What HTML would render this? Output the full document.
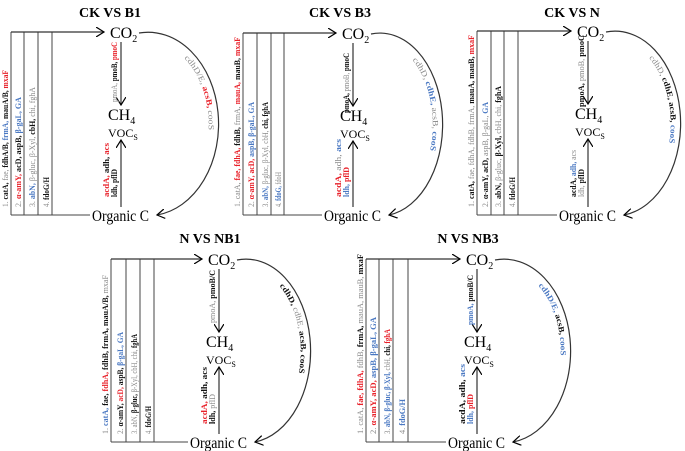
<!DOCTYPE html>
<html><head><meta charset="utf-8"><style>
html,body{margin:0;padding:0;background:#fff;}
svg{display:block;font-family:"Liberation Serif",serif;}
</style></head><body>
<svg id="fig" width="685" height="451" viewBox="0 0 685 451" xmlns="http://www.w3.org/2000/svg">
<defs>
<marker id="ah" markerWidth="10" markerHeight="10" refX="8" refY="5" orient="auto" markerUnits="userSpaceOnUse">
<path d="M0,0 L8,5 L0,10" fill="none" stroke="#000" stroke-width="1.2"/>
</marker>
</defs>
</svg>
<script>
const C={k:'#111',r:'#e8212a',b:'#4a78c2',g:'#8a8a8a'};
const titles=['CK VS B1','CK VS B3','CK VS N','N VS NB1','N VS NB3'];
const col1=[
 [['catA','k'],['fae','g'],['fdhA/B','k'],['frmA','b'],['mauA/B','k'],['mxaF','r']],
 [['catA','g'],['fae','r'],['fdhA','r'],['fdhB','k'],['frmA','g'],['mauA','r'],['mauB','k'],['mxaF','r']],
 [['catA','k'],['fae','g'],['fdhA','g'],['fdhB','g'],['frmA','g'],['mauA','k'],['mauB','k'],['mxaF','r']],
 [['catA','b'],['fae','k'],['fdhA','r'],['fdhB','k'],['frmA','k'],['mauA/B','k'],['mxaF','g']],
 [['catA','g'],['fae','r'],['fdhA','r'],['fdhB','g'],['frmA','k'],['mauA','g'],['mauB','g'],['mxaF','k']]];
const col2=[
 [['α-amY','r'],['acD','k'],['aspB','k'],['β-gaL','b'],['GA','b']],
 [['α-amY','r'],['acD','r'],['aspB','b'],['β-gaL','b'],['GA','b']],
 [['α-amY','k'],['acD','k'],['aspB','g'],['β-gaL','g'],['GA','b']],
 [['α-amY','k'],['acD','r'],['aspB','k'],['β-gaL','b'],['GA','b']],
 [['α-amY','r'],['acD','r'],['aspB','b'],['β-gaL','b'],['GA','b']]];
const col3=[
 [['abN','b'],['β-gluc','g'],['β-Xyl','g'],['cbH','k'],['chi','g'],['fghA','g']],
 [['abN','b'],['β-gluc','g'],['β-Xyl','g'],['cbH','g'],['chi','k'],['fghA','k']],
 [['abN','k'],['β-gluc','g'],['β-Xyl','k'],['cbH','g'],['chi','g'],['fghA','k']],
 [['abN','g'],['β-gluc','k'],['β-Xyl','g'],['cbH','g'],['chi','g'],['fghA','k']],
 [['abN','b'],['β-gluc','b'],['β-Xyl','b'],['cbH','g'],['chi','k'],['fghA','r']]];
const col4=[
 [['fdoG/H','k']],[['fdoG','b'],['fdoH','g']],[['fdoG/H','k']],[['fdoG/H','k']],[['fdoG/H','b']]];
const pmo=[
 [['pmoA','g'],['pmoB','k'],['pmoC','r']],
 [['pmoA','k'],['pmoB','g'],['pmoC','k']],
 [['pmoA','k'],['pmoB','g'],['pmoC','k']],
 [['pmoA','g'],['pmoB/C','k']],
 [['pmoA','b'],['pmoB/C','k']]];
const arcG=[
 [['cdhD/E','g'],['acsB','r'],['cooS','g']],
 [['cdhD','g'],['cdhE','b'],['acsB','g'],['cooS','b']],
 [['cdhD','g'],['cdhE','k'],['acsB','k'],['cooS','b']],
 [['cdhD','k'],['cdhE','g'],['acsB','k'],['cooS','k']],
 [['cdhD/E','b'],['acsB','k'],['cooS','b']]];
const low1=[
 [['acdA','r'],['adh','k'],['acs','r']],
 [['acdA','r'],['adh','g'],['acs','b']],
 [['acdA','k'],['adh','b'],['acs','g']],
 [['acdA','r'],['adh','k'],['acs','k']],
 [['acdA','k'],['adh','k'],['acs','b']]];
const low2=[
 [['ldh','k'],['pflD','k']],
 [['ldh','b'],['pflD','r']],
 [['ldh','g'],['pflD','k']],
 [['ldh','k'],['pflD','g']],
 [['ldh','b'],['pflD','r']]];
// layout (not data)
const L=[
 {lines:[11,24,38,52],ax:121,top:32,bot:215,arcR:218,tx:110,ty:17,cl:[137,110,120,30],pl:60,py:70,ll:[54,28],al:78},
 {lines:[243,257,271,284],ax:353,top:33,bot:215,arcR:442,tx:340,ty:17,cl:[170,105,105,35],pl:60,py:80,ll:[58,30],al:95},
 {lines:[477,491,504,518],ax:588,top:31,bot:215,arcR:680,tx:572,ty:17,cl:[172,105,121,30],pl:72,py:76,ll:[47,28],al:90},
 {lines:[111,126,140,154],ax:219,top:259,bot:442,arcR:310,tx:210,ty:243,cl:[159,102,100,28],pl:53,py:64,ll:[57,30],al:92},
 {lines:[366,379,393,408],ax:477,top:259,bot:442,arcR:570,tx:468,ty:243,cl:[180,117,105,35],pl:50,py:66,ll:[60,30],al:75}];
const svg=document.getElementById('fig');
const NS='http://www.w3.org/2000/svg';
function mk(tag,attrs,parent){const e=document.createElementNS(NS,tag);for(const k in attrs)e.setAttribute(k,attrs[k]);(parent||svg).appendChild(e);return e;}
function fill(t,prefix,segs){
 if(prefix){const s=mk('tspan',{fill:C.g},t);s.textContent=prefix;}
 segs.forEach((sg,i)=>{const s=mk('tspan',{fill:C[sg[1]],'font-weight':sg[1]==='g'?'normal':'bold'},t);s.textContent=sg[0]+(i<segs.length-1?', ':'');});
}
L.forEach((p,i)=>{
 const g=mk('g',{});
 
 
 const t=mk('text',{x:p.tx,y:p.ty,'text-anchor':'middle','font-size':14,'font-weight':'bold'},g);
 
 
 t.textContent=titles[i];
 p.lines.forEach(x=>{mk('line',{x1:x,y1:p.top,x2:x,y2:p.bot,stroke:'#444','stroke-width':1},g);});
 const top=mk('line',{x1:p.lines[0],y1:p.top,x2:p.ax-17,y2:p.top,stroke:'#333','stroke-width':1.2,'marker-end':'url(#ah)'},g);
 
 
 mk('line',{x1:p.lines[0],y1:p.bot,x2:p.ax-31,y2:p.bot,stroke:'#444','stroke-width':1},g);
 [col1,col2,col3,col4].forEach((col,c)=>{
  const x=p.lines[c]-3,y=p.bot-8;
  const tt=mk('text',{transform:`translate(${x},${y}) rotate(-90)`,'font-size':8,textLength:p.cl[c],lengthAdjust:'spacingAndGlyphs'},g);
  
  
  fill(tt,(c+1)+'. ',col[i]);
 });
 const co=mk('text',{x:p.ax-11,y:p.top+6,'font-size':16},g);
 
 co.innerHTML='CO<tspan font-size="10" dy="4">2</tspan>';
 const ch=mk('text',{x:p.ax-13,y:p.top+88,'font-size':16},g);
 
 ch.innerHTML='CH<tspan font-size="10" dy="4">4</tspan>';
 const vo=mk('text',{x:p.ax-13,y:p.top+105,'font-size':12},g);
 
 vo.innerHTML='VOC<tspan font-size="8" dy="3">S</tspan>';
 const oc=mk('text',{x:p.ax-29,y:p.bot+6,'font-size':16,textLength:57,lengthAdjust:'spacingAndGlyphs'},g);
 
 oc.textContent='Organic C';
 mk('line',{x1:p.ax,y1:p.top+10,x2:p.ax,y2:p.top+73,stroke:'#333','stroke-width':1.2,'marker-end':'url(#ah)'},g);
 mk('line',{x1:p.ax,y1:p.bot-8,x2:p.ax,y2:p.top+108,stroke:'#333','stroke-width':1.2,'marker-end':'url(#ah)'},g);
 const pt=mk('text',{transform:`translate(${p.ax-4},${p.top+p.py}) rotate(-90)`,'font-size':8,textLength:p.pl,lengthAdjust:'spacingAndGlyphs'},g);
 
 fill(pt,'',pmo[i]);
 const l1=mk('text',{transform:`translate(${p.ax-12},${p.bot-18}) rotate(-90)`,'font-size':8,textLength:p.ll[0],lengthAdjust:'spacingAndGlyphs'},g);
 
 fill(l1,'',low1[i]);
 const l2=mk('text',{transform:`translate(${p.ax-4},${p.bot-18}) rotate(-90)`,'font-size':8,textLength:p.ll[1],lengthAdjust:'spacingAndGlyphs'},g);
 
 fill(l2,'',low2[i]);
 const x1=p.ax+18,y1=p.top+1,x2=p.ax+36,y2=p.bot;
 const rx=p.arcR-(x1+x2)/2,ry=(y2-y1)/2;
 const arc=mk('path',{d:`M${x1},${y1} A${rx},${ry} 0 0 1 ${x2},${y2}`,fill:'none',stroke:'#333','stroke-width':1.2,'marker-end':'url(#ah)'},g);
 
 const id='ap'+i;
 mk('path',{id:id,d:`M${x1},${y1+10} A${rx-10},${ry-10} 0 0 1 ${x2},${y2-10}`,fill:'none',stroke:'none'},g);
 const at=mk('text',{'font-size':8},g);
 
 const tp=mk('textPath',{href:'#'+id,startOffset:'22%',textLength:p.al,lengthAdjust:'spacingAndGlyphs'},at);
 fill(tp,'',arcG[i]);
});
</script>
</body></html>
